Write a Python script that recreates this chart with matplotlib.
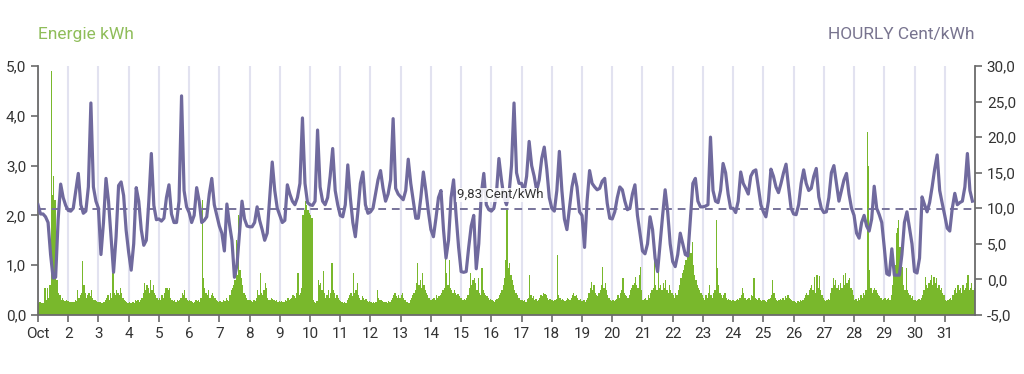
import numpy as np
import matplotlib.pyplot as plt
from matplotlib.ticker import FuncFormatter

plt.rcParams['font.family'] = ['Roboto', 'DejaVu Sans']

# day labels on the x axis (one tick per midnight)
day_labels = ["Oct"] + [str(d) for d in range(2, 32)]
avg_price = 9.83

# hourly price in Cent/kWh, one reading every 2 hours (h0, h2, ... h22), one row per day
price = [
    [10.5, 9.2, 9.2, 8.8, 8.0, 3.5, 0.2, 0.3, 8.4, 13.4, 11.5, 10.4],
    [9.7, 9.6, 10.0, 12.5, 14.9, 10.5, 9.3, 9.6, 13.0, 24.8, 13.0, 11.0],
    [10.0, 3.5, 8.0, 14.2, 11.0, 6.0, 1.0, 6.0, 13.2, 13.7, 11.8, 6.9],
    [3.8, 1.3, 5.0, 12.9, 11.0, 7.0, 4.8, 5.5, 11.0, 17.7, 10.4, 8.4],
    [8.5, 8.2, 8.6, 11.5, 13.3, 9.2, 8.0, 8.0, 11.0, 25.8, 12.5, 10.2],
    [9.4, 8.0, 9.0, 12.9, 11.0, 8.0, 8.3, 8.8, 12.0, 14.2, 10.5, 9.0],
    [7.5, 6.5, 4.0, 10.6, 7.8, 5.5, 0.3, 2.0, 6.5, 11.0, 8.5, 7.5],
    [7.4, 7.4, 8.0, 10.2, 8.3, 7.0, 5.5, 6.5, 11.5, 16.5, 12.5, 10.0],
    [9.0, 8.0, 8.3, 13.3, 12.0, 11.0, 10.5, 11.5, 13.5, 22.7, 13.5, 10.8],
    [10.5, 10.4, 11.0, 21.0, 13.0, 11.0, 10.5, 11.5, 14.5, 18.4, 12.5, 10.5],
    [9.0, 8.8, 10.5, 16.1, 11.5, 8.0, 6.0, 9.5, 13.5, 15.1, 10.5, 9.3],
    [9.5, 10.0, 12.0, 14.0, 15.3, 12.8, 11.0, 12.0, 14.0, 22.6, 12.8, 12.0],
    [11.6, 11.2, 12.5, 16.9, 13.5, 11.0, 8.6, 8.6, 11.5, 15.1, 12.5, 9.5],
    [7.0, 6.0, 8.6, 11.5, 12.5, 7.0, 3.0, 5.5, 11.5, 14.0, 9.0, 4.5],
    [1.1, 1.0, 1.1, 4.5, 7.5, 9.0, 1.5, 5.0, 12.0, 14.9, 10.5, 9.8],
    [9.6, 10.0, 12.0, 17.0, 14.0, 11.5, 10.5, 12.0, 16.0, 24.8, 15.0, 13.5],
    [13.5, 12.3, 14.5, 19.4, 16.0, 14.5, 12.5, 14.0, 17.0, 18.6, 15.5, 11.5],
    [10.0, 9.6, 12.5, 18.0, 12.5, 8.5, 7.0, 10.0, 13.0, 14.8, 13.0, 9.5],
    [9.0, 4.5, 11.0, 15.3, 13.5, 13.0, 12.6, 12.8, 13.8, 14.2, 10.7, 8.6],
    [8.5, 9.5, 11.5, 13.0, 12.6, 11.0, 9.8, 10.0, 12.0, 13.3, 9.0, 6.5],
    [4.0, 3.6, 5.0, 8.8, 7.0, 3.0, 1.1, 5.0, 9.0, 12.6, 9.5, 5.0],
    [2.5, 1.8, 3.5, 6.5, 5.0, 3.5, 3.3, 8.5, 13.5, 14.2, 11.0, 10.2],
    [10.2, 10.3, 10.5, 20.0, 12.5, 11.0, 10.8, 12.5, 16.3, 15.0, 12.0, 10.0],
    [10.0, 9.4, 11.0, 15.1, 13.5, 12.8, 12.0, 14.5, 15.2, 15.4, 13.0, 10.5],
    [9.5, 8.8, 11.0, 15.5, 14.5, 13.0, 12.2, 13.5, 15.0, 16.2, 13.0, 10.0],
    [9.2, 9.1, 10.5, 13.5, 15.4, 13.5, 12.5, 12.8, 14.5, 15.6, 11.6, 10.0],
    [9.4, 9.5, 11.5, 15.0, 16.0, 13.5, 11.0, 12.5, 14.0, 14.9, 12.0, 10.0],
    [9.0, 6.5, 5.8, 8.0, 9.0, 7.5, 6.8, 8.5, 13.1, 10.0, 9.1, 8.0],
    [4.5, 0.8, 0.6, 4.3, 0.6, 0.6, 0.6, 3.5, 8.0, 9.5, 7.2, 5.0],
    [1.1, 0.9, 3.0, 11.6, 10.5, 9.5, 10.8, 13.0, 15.5, 17.5, 12.5, 10.7],
    [9.0, 7.2, 6.8, 10.0, 12.1, 10.5, 10.8, 11.0, 13.0, 17.7, 12.5, 11.0],
]

# hourly energy in kWh, 24 values per day
energy = [
    [0.25, 0.26, 0.25, 0.24, 0.25, 0.55, 0.3, 0.55, 0.35, 0.6, 4.9, 2.4, 2.8, 2.3, 0.7, 0.7, 0.45, 0.4, 0.3, 0.35, 0.3, 0.28, 0.3, 0.28],
    [0.28, 0.27, 0.26, 0.27, 0.26, 0.3, 0.28, 0.5, 0.35, 0.4, 0.45, 1.08, 0.6, 0.45, 0.35, 0.4, 0.45, 0.38, 0.5, 0.35, 0.3, 0.3, 0.28, 0.27],
    [0.27, 0.26, 0.25, 0.25, 0.27, 0.3, 0.35, 0.4, 0.3, 0.45, 0.35, 0.85, 0.45, 0.4, 0.5, 0.45, 0.4, 0.55, 0.45, 0.35, 0.3, 0.28, 0.27, 0.25],
    [0.26, 0.25, 0.25, 0.27, 0.25, 0.3, 0.28, 0.3, 0.27, 0.3, 0.35, 0.45, 0.65, 0.5, 0.6, 0.55, 0.45, 0.7, 0.5, 0.6, 0.45, 0.4, 0.35, 0.3],
    [0.35, 0.3, 0.4, 0.35, 0.45, 0.55, 0.55, 0.5, 0.55, 0.35, 0.3, 0.28, 0.3, 0.27, 0.3, 0.28, 0.3, 0.35, 0.45, 0.4, 0.5, 0.35, 0.3, 0.28],
    [0.3, 0.28, 0.27, 0.25, 0.27, 0.3, 0.28, 0.3, 0.27, 0.35, 2.3, 0.75, 0.55, 0.45, 0.4, 0.5, 0.35, 0.4, 0.45, 0.38, 0.35, 0.3, 0.28, 0.27],
    [0.28, 0.27, 0.26, 0.3, 0.28, 0.35, 0.3, 0.28, 0.4, 0.5, 0.55, 0.6, 0.7, 1.5, 0.8, 2.0, 0.9, 0.75, 0.6, 0.45, 0.4, 0.35, 0.3, 0.3],
    [0.3, 0.28, 0.27, 0.3, 0.28, 0.35, 0.5, 0.4, 0.85, 0.45, 0.4, 0.5, 0.65, 0.55, 0.35, 0.3, 0.3, 0.35, 0.32, 0.3, 0.28, 0.3, 0.27, 0.28],
    [0.27, 0.28, 0.26, 0.27, 0.3, 0.28, 0.35, 0.3, 0.32, 0.35, 0.4, 0.38, 0.35, 0.45, 0.85, 0.4, 0.45, 0.55, 2.0, 2.1, 2.28, 2.2, 2.1, 2.05],
    [2.0, 1.95, 0.3, 0.27, 0.25, 0.28, 0.7, 0.6, 0.65, 0.5, 0.88, 0.45, 0.35, 0.4, 0.5, 0.35, 0.45, 1.05, 0.5, 0.45, 0.35, 0.4, 0.35, 0.3],
    [0.28, 0.26, 0.25, 0.27, 0.25, 0.3, 0.35, 0.4, 0.45, 0.38, 0.84, 0.45, 0.5, 0.65, 0.4, 0.35, 0.3, 0.38, 0.35, 0.3, 0.32, 0.28, 0.27, 0.28],
    [0.26, 0.25, 0.27, 0.25, 0.26, 0.5, 0.35, 0.3, 0.3, 0.28, 0.27, 0.26, 0.27, 0.25, 0.28, 0.27, 0.3, 0.35, 0.4, 0.45, 0.38, 0.35, 0.4, 0.35],
    [0.4, 0.45, 0.35, 0.3, 0.27, 0.26, 0.25, 0.3, 0.35, 0.4, 0.45, 0.5, 0.65, 1.04, 0.6, 0.7, 0.55, 0.84, 0.6, 0.5, 0.45, 0.4, 0.35, 0.3],
    [0.3, 0.32, 0.35, 0.3, 0.4, 0.35, 0.38, 0.4, 0.45, 0.5, 0.55, 1.15, 0.84, 0.6, 1.1, 0.55, 0.5, 0.45, 0.5, 0.45, 0.4, 0.42, 0.38, 0.35],
    [0.35, 0.3, 0.32, 0.3, 0.35, 0.4, 0.55, 0.84, 0.6, 0.7, 0.75, 0.65, 0.5, 0.75, 0.45, 0.4, 0.94, 0.5, 0.45, 0.4, 0.38, 0.35, 0.3, 0.32],
    [0.3, 0.28, 0.27, 0.3, 0.32, 0.35, 0.4, 0.45, 0.5, 0.6, 0.75, 1.1, 2.14, 0.95, 1.04, 0.8, 0.7, 0.6, 0.5, 0.45, 0.4, 0.35, 0.35, 0.3],
    [0.3, 0.28, 0.3, 0.27, 0.32, 0.35, 0.8, 0.4, 0.35, 0.38, 0.3, 0.32, 0.28, 0.3, 0.35, 0.4, 0.38, 0.45, 0.42, 0.4, 0.35, 0.3, 0.32, 0.3],
    [0.3, 0.28, 0.3, 0.32, 1.2, 0.4, 0.35, 0.3, 0.32, 0.3, 0.28, 0.3, 0.35, 0.32, 0.3, 0.35, 0.4, 0.45, 0.38, 0.4, 0.35, 0.3, 0.32, 0.28],
    [0.28, 0.3, 0.27, 0.3, 0.35, 0.45, 0.55, 0.67, 0.5, 0.6, 0.45, 0.4, 0.38, 0.45, 0.5, 0.6, 0.97, 0.55, 0.65, 0.5, 0.4, 0.35, 0.3, 0.28],
    [0.3, 0.28, 0.3, 0.32, 0.4, 0.35, 0.45, 0.5, 0.74, 0.45, 0.4, 0.38, 0.35, 0.4, 0.5, 0.55, 0.6, 0.65, 0.77, 0.6, 0.55, 0.8, 0.97, 0.5],
    [0.3, 0.32, 0.35, 0.3, 0.4, 0.35, 0.45, 0.5, 0.55, 1.1, 0.6, 0.5, 0.9, 0.55, 0.6, 0.5, 0.65, 0.55, 0.7, 0.5, 0.45, 0.6, 0.5, 0.45],
    [0.4, 0.35, 0.45, 0.4, 0.5, 0.6, 0.75, 0.85, 0.9, 1.0, 1.1, 1.2, 1.3, 2.0, 1.25, 1.47, 1.0, 0.8, 0.7, 0.6, 0.55, 0.5, 0.45, 0.4],
    [0.35, 0.3, 0.4, 0.35, 0.45, 0.6, 0.4, 0.35, 0.45, 0.5, 1.9, 0.94, 0.6, 0.45, 0.4, 0.35, 0.4, 0.45, 0.35, 0.3, 0.32, 0.3, 0.28, 0.3],
    [0.3, 0.28, 0.3, 0.32, 0.3, 0.35, 0.4, 0.54, 0.45, 0.35, 0.3, 0.32, 0.35, 0.3, 0.4, 0.38, 0.74, 0.35, 0.32, 0.3, 0.35, 0.3, 0.28, 0.3],
    [0.3, 0.28, 0.27, 0.3, 0.32, 0.35, 0.4, 0.7, 0.45, 0.35, 0.3, 0.28, 0.3, 0.32, 0.3, 0.35, 0.3, 0.38, 0.35, 0.4, 0.35, 0.32, 0.3, 0.28],
    [0.28, 0.27, 0.25, 0.28, 0.27, 0.3, 0.28, 0.3, 0.35, 0.4, 0.45, 0.4, 0.5, 0.55, 0.6, 0.5, 0.77, 0.45, 0.8, 0.55, 0.78, 0.5, 0.4, 0.35],
    [0.3, 0.28, 0.3, 0.32, 0.3, 0.45, 0.55, 0.74, 0.6, 0.7, 0.55, 0.6, 0.5, 0.65, 0.55, 0.8, 0.6, 0.84, 0.65, 0.7, 0.74, 0.55, 0.5, 0.4],
    [0.3, 0.32, 0.28, 0.35, 0.3, 0.4, 0.35, 0.45, 0.4, 0.5, 3.68, 3.0, 0.9, 0.55, 0.45, 0.5, 0.55, 0.5, 0.45, 0.4, 0.38, 0.35, 0.3, 0.32],
    [0.35, 0.3, 0.32, 0.35, 0.3, 0.4, 0.6, 0.95, 1.0, 1.64, 1.74, 1.9, 1.37, 1.0, 0.97, 0.6, 0.5, 0.94, 0.5, 0.45, 0.4, 0.35, 0.38, 0.3],
    [0.3, 0.28, 0.3, 0.32, 0.3, 0.35, 0.4, 0.5, 0.77, 0.6, 0.55, 0.65, 0.7, 0.8, 0.6, 0.77, 0.65, 0.75, 0.55, 0.6, 0.5, 0.55, 0.45, 0.4],
    [0.3, 0.28, 0.3, 0.32, 0.35, 0.3, 0.4, 0.5, 0.55, 0.45, 0.6, 0.5, 0.55, 0.45, 0.6, 0.5, 0.55, 0.65, 0.8, 0.5, 0.55, 0.64, 0.5, 0.55],
]

green = '#79b82c'
purple = '#706a9e'
axis_grey = '#6b6b6b'
text_dark = '#333333'

p = np.array(price).ravel()
e = np.array(energy).ravel()
x_e = np.arange(len(e)) + 0.5
x_p = np.arange(len(p)) * 2.0

comma = FuncFormatter(lambda v, _: f"{v:.1f}".replace(".", ","))

fig = plt.figure(figsize=(10.24, 3.74), dpi=100)
ax = fig.add_axes([0.0371, 0.1578, 0.9150, 0.6657])
ax2 = ax.twinx()

ax.bar(x_e, e, width=1.0, color=green, linewidth=0)
ax.set_xlim(0, 744)
ax.set_ylim(0, 5)
ax.set_yticks(np.arange(0, 5.01, 1))
ax.yaxis.set_major_formatter(comma)
ax.set_xticks(np.arange(0, 744, 24))
ax.set_xticklabels(day_labels)
ax.grid(axis='x', color='#e2e2f0', linewidth=1.5)
ax.grid(axis='y', visible=False)
ax.set_axisbelow(True)

ax2.plot(x_p, p, color=purple, linewidth=2.3, solid_joinstyle='round', zorder=3)
ax2.axhline(avg_price, color='#77739a', linewidth=1.4, linestyle=(0, (4, 3)), zorder=2)
ax2.set_ylim(-5, 30)
ax2.set_yticks(np.arange(-5, 30.01, 5))
ax2.yaxis.set_major_formatter(comma)
ax2.text(367, 11.9, "9,83 Cent/kWh", ha='center', va='center', fontsize=9.5,
         color=text_dark, zorder=4,
         bbox=dict(facecolor='white', edgecolor='none', pad=0.5, alpha=0.85))

for a in (ax, ax2):
    a.spines['top'].set_visible(False)
    for s in ('left', 'right', 'bottom'):
        a.spines[s].set_color(axis_grey)
        a.spines[s].set_linewidth(1.3)
    a.tick_params(colors=axis_grey, labelcolor=text_dark, labelsize=11, length=5, width=1.2)
ax.spines['right'].set_visible(False)
ax2.spines['left'].set_visible(False)
ax2.spines['bottom'].set_visible(False)
ax.tick_params(axis='x', pad=4)

fig.text(38 / 1024, 1 - 35 / 374, "Energie kWh", color='#8fbd5a', fontsize=12.5,
         ha='left', va='center')
fig.text(975 / 1024, 1 - 35 / 374, "HOURLY Cent/kWh", color='#78748f', fontsize=12.5,
         ha='right', va='center')

fig.savefig('out.png', dpi=100)
